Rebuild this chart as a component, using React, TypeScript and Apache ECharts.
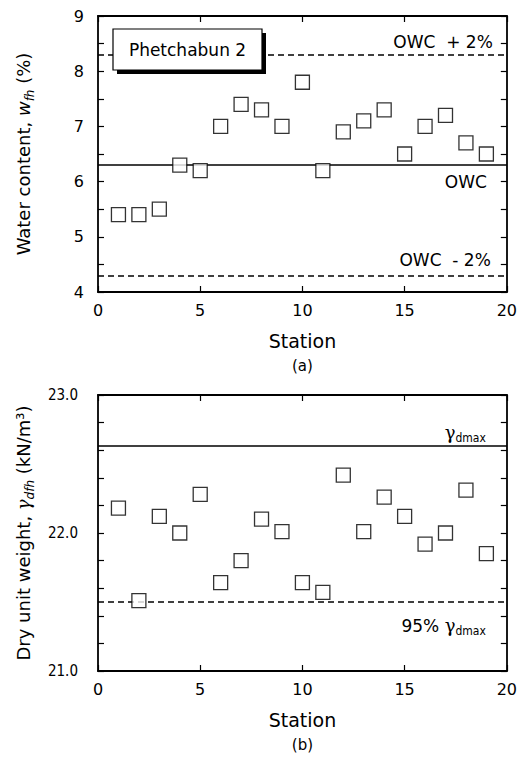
import React, { useEffect, useRef } from "react";
import * as echarts from "echarts";

const stations = [1, 2, 3, 4, 5, 6, 7, 8, 9, 10, 11, 12, 13, 14, 15, 16, 17, 18, 19];
const waterContent = [5.4, 5.4, 5.5, 6.3, 6.2, 7.0, 7.4, 7.3, 7.0, 7.8, 6.2, 6.9, 7.1, 7.3, 6.5, 7.0, 7.2, 6.7, 6.5];
const dryUnitWeight = [22.18, 21.51, 22.12, 22.0, 22.28, 21.64, 21.8, 22.1, 22.01, 21.64, 21.57, 22.42, 22.01, 22.26, 22.12, 21.92, 22.0, 22.31, 21.85];
const owc = 6.3;
const owcPlus = 8.3;
const owcMinus = 4.3;
const gammaDmax = 22.63;
const gamma95 = 21.5;
const xTicks = [0, 5, 10, 15, 20];
const wTicks = [4, 5, 6, 7, 8, 9];
const gTicks = [21, 22, 23];

const FONT = "DejaVu Sans";
const NARROW = "'Liberation Sans Narrow', 'DejaVu Sans Condensed', 'Liberation Sans'";

export default function App() {
  const ref = useRef<HTMLDivElement>(null);
  useEffect(() => {
    if (!ref.current) return;
    const chart = echarts.init(ref.current, null, { renderer: "svg" });
    const black = "#000";
    const gridA = { left: 98, top: 16, width: 411, height: 276 };
    const gridB = { left: 98, top: 395, width: 411, height: 276 };
    const frame = { show: true, onZero: false, lineStyle: { color: black, width: 1.8 } };
    const tick = { show: true, inside: true, length: 6, lineStyle: { color: black, width: 1.2 } };

    const xBase = (gi: number, pos: "bottom" | "top", labels: boolean, name?: string) => ({
      type: "value",
      gridIndex: gi,
      position: pos,
      min: xTicks[0],
      max: xTicks[xTicks.length - 1],
      interval: xTicks[1] - xTicks[0],
      axisLine: frame,
      axisTick: tick,
      splitLine: { show: false },
      axisLabel: { show: labels, color: black, fontSize: 16, fontFamily: FONT, margin: 10 },
      name: name ?? "",
      nameLocation: "middle",
      nameGap: 36,
      nameTextStyle: {
        rich: {
          s: { fontSize: 19, fontFamily: FONT, color: black, lineHeight: 26 },
          a: { fontSize: 15, fontFamily: FONT, color: black, lineHeight: 24 },
        },
      },
    });

    const subRich = {
      n: { fontSize: 18, fontFamily: FONT, color: black, padding: [0, 0, 4, 0], verticalAlign: "bottom" },
      i: { fontSize: 18, fontFamily: FONT, fontStyle: "italic", color: black, padding: [0, 0, 4, 0], verticalAlign: "bottom" },
      s: { fontSize: 12, fontFamily: FONT, fontStyle: "italic", color: black, verticalAlign: "bottom" },
      g: { fontSize: 18, fontFamily: "DejaVu Serif", fontStyle: "italic", color: black, padding: [0, 0, 4, 0], verticalAlign: "bottom" },
    };

    const yAx = (gi: number, pos: "left" | "right", ticks: number[], minorSplit: number, extra: any) => ({
      type: "value", gridIndex: gi, position: pos,
      min: ticks[0], max: ticks[ticks.length - 1], interval: 1,
      axisLine: frame,
      axisTick: tick,
      minorTick: { show: true, splitNumber: minorSplit, length: 6, lineStyle: { color: black, width: 1.2 } },
      splitLine: { show: false },
      minorSplitLine: { show: false },
      axisLabel: { show: false },
      ...extra,
    });

    const markerStyle = { color: "#fff", borderColor: black, borderWidth: 1.3 };
    const dash = [6, 4];

    const option: any = {
      animation: false,
      backgroundColor: "#fff",
      grid: [gridA, gridB],
      xAxis: [
        xBase(0, "bottom", true, "{s|Station}\n{a|(a)}"),
        xBase(0, "top", false),
        xBase(1, "bottom", true, "{s|Station}\n{a|(b)}"),
        xBase(1, "top", false),
      ],
      yAxis: [
        yAx(0, "left", wTicks, 2, {
          axisLabel: { color: black, fontSize: 16, fontFamily: FONT, margin: 14 },
          name: "{n|Water content, }{i|w}{s|fh}{n| (%)}",
          nameLocation: "middle", nameRotate: 90, nameGap: 62,
          nameTextStyle: { rich: subRich },
        }),
        yAx(0, "right", wTicks, 2, {}),
        yAx(1, "left", gTicks, 5, {
          axisLabel: { color: black, fontSize: 15, fontFamily: NARROW, margin: 20, formatter: (v: number) => v.toFixed(1) },
          name: "{n|Dry unit weight, }{g|γ}{s|dfh}{n| (kN/m³)}",
          nameLocation: "middle", nameRotate: 90, nameGap: 62,
          nameTextStyle: { rich: subRich },
        }),
        yAx(1, "right", gTicks, 5, {}),
      ],
      series: [
        {
          type: "scatter",
          xAxisIndex: 0, yAxisIndex: 0,
          symbol: "rect", symbolSize: 14,
          itemStyle: markerStyle,
          data: stations.map((s, i) => [s, waterContent[i]]),
          z: 5,
          markLine: {
            silent: true, symbol: "none", animation: false,
            label: { show: true, color: black, fontSize: 17, fontFamily: FONT },
            data: [
              { yAxis: owcPlus, lineStyle: { color: black, type: dash, width: 1.5 },
                label: { formatter: "OWC  + 2%", position: "insideEndTop", distance: [14, 4] } },
              { yAxis: owc, lineStyle: { color: black, type: "solid", width: 1.5 },
                label: { formatter: "OWC", position: "insideEndBottom", distance: [20, 8] } },
              { yAxis: owcMinus, lineStyle: { color: black, type: dash, width: 1.5 },
                label: { formatter: "OWC  - 2%", position: "insideEndTop", distance: [16, 7] } },
            ],
          },
        },
        {
          type: "scatter",
          xAxisIndex: 2, yAxisIndex: 2,
          symbol: "rect", symbolSize: 14,
          itemStyle: markerStyle,
          data: stations.map((s, i) => [s, dryUnitWeight[i]]),
          z: 5,
          markLine: {
            silent: true, symbol: "none", animation: false,
            label: {
              show: true, color: black, fontSize: 16, fontFamily: FONT,
              rich: {
                n: { fontSize: 17, fontFamily: FONT, color: black, padding: [0, 0, 3, 0], verticalAlign: "bottom" },
                g: { fontSize: 18, fontFamily: "DejaVu Serif", color: black, padding: [0, 0, 3, 0], verticalAlign: "bottom" },
                s: { fontSize: 12, fontFamily: NARROW, color: black, verticalAlign: "bottom" },
              },
            },
            data: [
              { yAxis: gammaDmax, lineStyle: { color: black, type: "solid", width: 1.5 },
                label: { formatter: "{g|γ}{s|dmax}", position: "insideEndTop", distance: [21, 2] } },
              { yAxis: gamma95, lineStyle: { color: black, type: dash, width: 1.5 },
                label: { formatter: "{n|95% }{g|γ}{s|dmax}", position: "insideEndBottom", distance: [21, 14] } },
            ],
          },
        },
      ],
      graphic: [
        { type: "rect", shape: { x: 117, y: 33, width: 149, height: 41 }, style: { fill: black }, z: 10 },
        { type: "rect", shape: { x: 113, y: 29, width: 149, height: 41 }, style: { fill: "#fff", stroke: black, lineWidth: 1.2 }, z: 11 },
        { type: "text", x: 187.5, y: 50, style: { text: "Phetchabun 2", fontSize: 17, fontFamily: FONT, fill: black, align: "center", verticalAlign: "middle" }, z: 12 },
      ],
    };
    chart.setOption(option);
    return () => chart.dispose();
  }, []);
  return (
    <div
      ref={ref}
      style={{ position: "fixed", left: 0, top: 0, width: 520, height: 767, background: "#fff" }}
    />
  );
}
